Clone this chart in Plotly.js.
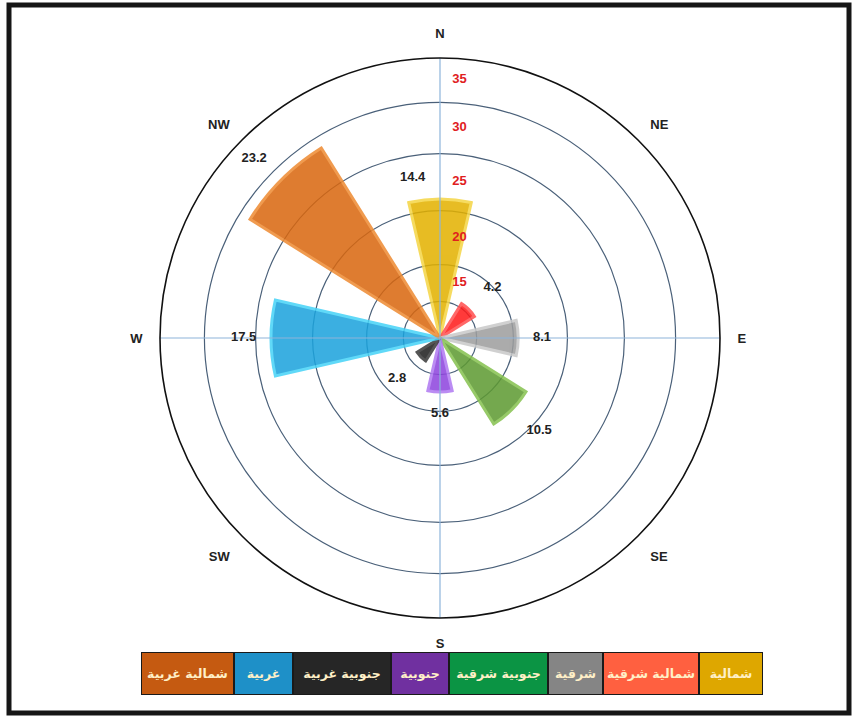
<!DOCTYPE html>
<html><head><meta charset="utf-8">
<script src="https://cdn.plot.ly/plotly-3.0.1.min.js"></script>
<style>body{margin:0;background:#fff}#chart{width:855px;height:718px}</style>
</head><body><div id="chart"></div>
<script>
// ---- data ----
const directions = ['N','NE','E','SE','S','SW','W','NW'];
const angles = [0,45,90,135,180,225,270,315];
const frequencies = [14.4,4.2,8.1,10.5,5.6,2.8,17.5,23.2];
const barColors = ['#E3B200','#FF1A1A','#9E9E9E','#5E9A32','#8E44DE','#1E1E1E','#1BA3DD','#D9670F'];
const barEdgeColors = ['#F5D646','#FF5050','#C9C9C9','#86C250','#B07AF2','#3A3A3A','#47D3F7','#EE8B33'];
const ringValues = [3.8,7.6,13.2,19.1,24.4];
const radialMax = 29;
const scaleLabels = ['15','20','25','30','35'];
const legendNames = ['شمالية','شمالية شرقية','شرقية','جنوبية شرقية','جنوبية','جنوبية غربية','غربية','شمالية غربية'];
const legendColors = ['#DEA700','#FF6040','#858585','#0B9444','#7030A0','#262626','#1E90C8','#C55A11'];
const legendWidths = [64,96,55,99,58,98,59,93];
const labelPositions = ['top left','top right','middle right','bottom right','bottom center','bottom left','middle left','top left'];

// ---- traces ----
const ringsAll = ringValues.concat([radialMax]);
const scaleR = scaleLabels.map((_, i) => (ringsAll[i] + ringsAll[i+1]) / 2);

const traces = [
  {type:'scatterpolar', mode:'lines', r:[radialMax,0,radialMax], theta:[0,0,180],
   line:{color:'#8DB4DA', width:1.2}, hoverinfo:'skip', showlegend:false},
  {type:'scatterpolar', mode:'lines', r:[radialMax,0,radialMax], theta:[90,0,270],
   line:{color:'#8DB4DA', width:1.2}, hoverinfo:'skip', showlegend:false},
  {type:'barpolar', r:frequencies, theta:angles, width:26,
   marker:{color:barColors, line:{color:barEdgeColors, width:3}, opacity:0.86},
   showlegend:false, hoverinfo:'skip'},
  {type:'scatterpolar', mode:'markers+text', r:frequencies, theta:angles,
   marker:{size:22, opacity:0},
   text:frequencies.map(v => v.toFixed(1)), textposition:labelPositions,
   textfont:{family:'Liberation Sans, Arial, sans-serif', size:13, color:'#222', weight:'bold'},
   cliponaxis:false, showlegend:false, hoverinfo:'skip'},
  {type:'scatterpolar', mode:'markers+text', r:scaleR, theta:scaleR.map(() => 0),
   marker:{size:18, opacity:0},
   text:scaleLabels, textposition:'middle right',
   textfont:{family:'Liberation Sans, Arial, sans-serif', size:13, color:'#E0201E', weight:'bold'},
   cliponaxis:false, showlegend:false, hoverinfo:'skip'}
];

// ---- legend as cells ----
const W = 855, H = 718;
const annotations = [];
let right = 763;
legendNames.forEach((name, i) => {
  const w = legendWidths[i];
  annotations.push({
    xref:'paper', yref:'paper', x:(right - w/2)/W, y:1 - 673.5/H,
    xanchor:'center', yanchor:'middle', showarrow:false,
    text:name, width:w-2, height:41, borderpad:0,
    bgcolor:legendColors[i], bordercolor:'#1a1a1a', borderwidth:1,
    font:{family:'DejaVu Sans, sans-serif', size:12.5, color:'#FFF0C8', weight:'bold'}
  });
  right -= w;
});

const R = 280, cx = 440, cy = 338;
const layout = {
  width:W, height:H, margin:{l:0,r:0,t:0,b:0},
  paper_bgcolor:'#fff', showlegend:false,
  polar:{
    domain:{x:[(cx-R)/W,(cx+R)/W], y:[(H-cy-R)/H,(H-cy+R)/H]},
    bgcolor:'rgba(0,0,0,0)',
    radialaxis:{range:[0,radialMax], tickvals:ringValues, showticklabels:false, ticks:'',
      showline:false, gridcolor:'#4A6079', gridwidth:1.2, layer:'above traces'},
    angularaxis:{direction:'clockwise', rotation:90, tickmode:'array', tickvals:angles,
      ticktext:directions, showgrid:false, showline:true, linecolor:'#111', linewidth:1.6,
      ticks:'outside', ticklen:14, tickcolor:'rgba(0,0,0,0)',
      tickfont:{family:'Liberation Sans, Arial, sans-serif', size:13, color:'#222', weight:'bold'}}
  },
  annotations:annotations,
  shapes:[{type:'rect', xref:'paper', yref:'paper', x0:9/W, x1:849/W, y0:1-713/H, y1:1-5/H,
    line:{color:'#161616', width:5}, fillcolor:'rgba(0,0,0,0)'}]
};

Plotly.newPlot('chart', traces, layout, {staticPlot:true});
</script>
</body></html>
